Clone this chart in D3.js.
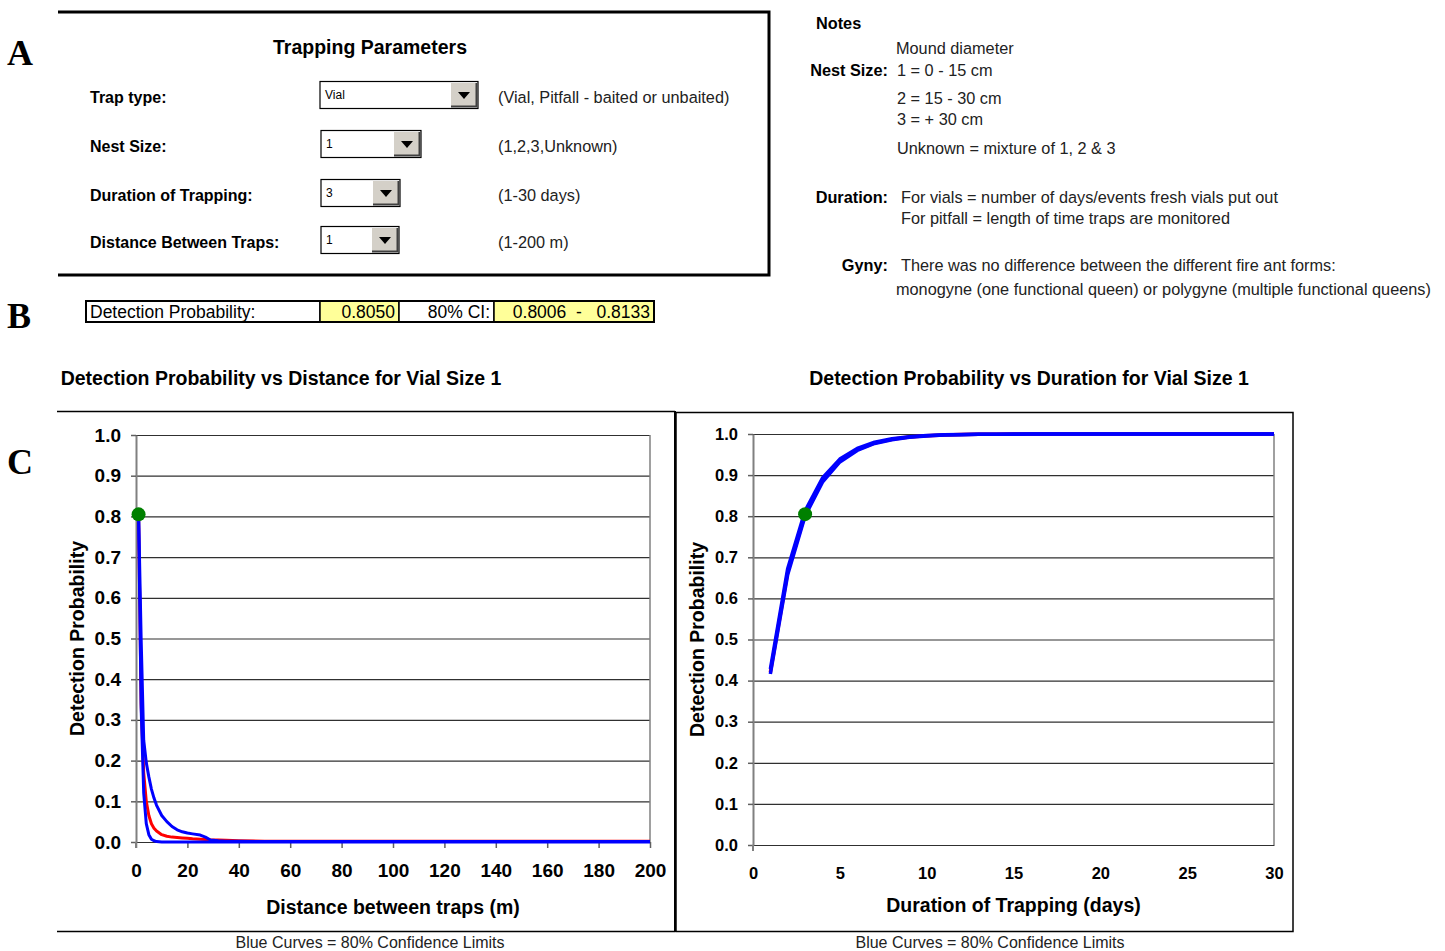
<!DOCTYPE html>
<html>
<head>
<meta charset="utf-8">
<script src="https://cdn.jsdelivr.net/npm/d3@7"></script>
<style>
  body { margin: 0; background: #fff; }
  svg text { font-family: "Liberation Sans", Arial, sans-serif; fill: #000; }
  .letter { font-family: "Liberation Serif", "Times New Roman", serif !important; font-weight: bold; font-size: 36px; }
</style>
</head>
<body>
<div id="chart"></div>
<script>
// ---- Data ----
const trapLabels = ["Trap type:", "Nest Size:", "Duration of Trapping:", "Distance Between Traps:"];
const trapValues = ["Vial", "1", "3", "1"];
const trapHints = ["(Vial, Pitfall - baited or unbaited)", "(1,2,3,Unknown)", "(1-30 days)", "(1-200 m)"];

const detectionProb = "0.8050";
const ciLower = "0.8006";
const ciUpper = "0.8133";

// distance chart (m) -> detection probability
const distances = [1, 2, 3, 4, 5, 6, 7, 8, 10, 12, 14, 16, 18, 20, 22, 25, 27, 29, 32, 35, 40, 50, 60, 80, 100, 120, 140, 160, 180, 200];
const distMain  = [0.805, 0.34, 0.17, 0.10, 0.065, 0.045, 0.034, 0.027, 0.018, 0.014, 0.012, 0.011, 0.010, 0.009, 0.008, 0.007, 0.006, 0.005, 0.005, 0.004, 0.003, 0.002, 0.002, 0.002, 0.002, 0.002, 0.002, 0.002, 0.002, 0.002];
const distUpper = [0.813, 0.50, 0.25, 0.195, 0.16, 0.13, 0.108, 0.09, 0.065, 0.05, 0.038, 0.03, 0.025, 0.022, 0.02, 0.017, 0.012, 0.005, 0.003, 0.002, 0.002, 0.001, 0.001, 0.001, 0.001, 0.001, 0.001, 0.001, 0.001, 0.001];
const distLower = [0.800, 0.33, 0.12, 0.045, 0.018, 0.007, 0.003, 0.001, 0, 0, 0, 0, 0, 0, 0, 0, 0, 0, 0, 0, 0, 0, 0, 0, 0, 0, 0, 0, 0, 0];

// duration chart (days) -> detection probability
const days = [1, 2, 3, 4, 5, 6, 7, 8, 9, 10, 11, 12, 13, 14, 15, 16, 17, 18, 19, 20, 21, 22, 23, 24, 25, 26, 27, 28, 29, 30];
const dayMain  = [0.420, 0.664, 0.805, 0.887, 0.934, 0.962, 0.978, 0.987, 0.9925, 0.9957, 0.9975, 0.9985, 0.9992, 0.9995, 0.9997, 0.9998, 0.9999, 1, 1, 1, 1, 1, 1, 1, 1, 1, 1, 1, 1, 1];
const dayLower = [0.416, 0.658, 0.8006, 0.883, 0.932, 0.960, 0.977, 0.986, 0.992, 0.9953, 0.9973, 0.9984, 0.9991, 0.9994, 0.9996, 0.9997, 0.9998, 0.9998, 0.9998, 0.9998, 0.9998, 0.9998, 0.9998, 0.9998, 0.9998, 0.9998, 0.9998, 0.9998, 0.9998, 0.9998];
const dayUpper = [0.428, 0.673, 0.8133, 0.893, 0.939, 0.965, 0.980, 0.9886, 0.9935, 0.9963, 0.9979, 0.9988, 0.9993, 0.9996, 0.9998, 0.9999, 0.9999, 0.9999, 0.9999, 0.9999, 0.9999, 0.9999, 0.9999, 0.9999, 0.9999, 0.9999, 0.9999, 0.9999, 0.9999, 0.9999];

const yTicks = [0, 0.1, 0.2, 0.3, 0.4, 0.5, 0.6, 0.7, 0.8, 0.9, 1.0];
const distTicks = [0, 20, 40, 60, 80, 100, 120, 140, 160, 180, 200];
const dayTicks = [0, 5, 10, 15, 20, 25, 30];

const currentDistance = 1;
const currentDuration = 3;

// ---- Drawing ----
const svg = d3.select("#chart").append("svg")
    .attr("width", 1445)
    .attr("height", 951);

// panel letters
svg.append("text").attr("class", "letter").attr("x", 7).attr("y", 65).text("A");
svg.append("text").attr("class", "letter").attr("x", 7).attr("y", 328).text("B");
svg.append("text").attr("class", "letter").attr("x", 7).attr("y", 474).text("C");

// Panel A box (no left side)
svg.append("path")
    .attr("d", "M58,12 H769 V275 H58")
    .attr("fill", "none")
    .attr("stroke", "#000")
    .attr("stroke-width", 3);

svg.append("text")
    .attr("x", 370).attr("y", 54)
    .attr("text-anchor", "middle")
    .style("font-weight", "bold").style("font-size", "19.5px")
    .text("Trapping Parameters");

const rowY = [95, 144, 193, 240];
const comboW = [158, 100, 79, 78];

function drawCombo(x, yc, w, value) {
    const h = 27, bw = 26;
    const g = svg.append("g").attr("transform", `translate(${x},${yc - h / 2})`);
    g.append("rect").attr("width", w).attr("height", h).attr("fill", "#fff").attr("stroke", "#000").attr("stroke-width", 1.2);
    g.append("rect").attr("x", w - bw - 1).attr("y", 1.5).attr("width", bw).attr("height", h - 3).attr("fill", "#d4d0c8");
    g.append("path").attr("d", `M${w - bw - 1},${h - 2} H${w - 1.5} V1.5`).attr("fill", "none").attr("stroke", "#404040").attr("stroke-width", 2);
    const cx = w - bw / 2 - 1, cy = h / 2;
    g.append("path").attr("d", `M${cx - 6},${cy - 3} L${cx + 6},${cy - 3} L${cx},${cy + 4} Z`).attr("fill", "#000");
    g.append("text").attr("x", 5).attr("y", h / 2 + 4).style("font-size", "12px").text(value);
}

trapLabels.forEach((lab, i) => {
    svg.append("text").attr("x", 90).attr("y", rowY[i] + 8)
        .style("font-weight", "bold").style("font-size", "16px").text(lab);
    drawCombo(i === 0 ? 320 : 321, rowY[i], comboW[i], trapValues[i]);
    svg.append("text").attr("x", 498).attr("y", rowY[i] + 8)
        .style("font-size", "16.3px").style("fill", "#222").text(trapHints[i]);
});

// Panel B table
const cells = [
    { x: 86, w: 234, fill: "#fff", text: "Detection Probability:", anchor: "start" },
    { x: 320, w: 79, fill: "#ffff99", text: detectionProb, anchor: "end" },
    { x: 399, w: 95, fill: "#fff", text: "80% CI:", anchor: "end" },
    { x: 494, w: 160, fill: "#ffff99", text: ciLower + "  -   " + ciUpper, anchor: "end" }
];
cells.forEach(c => {
    svg.append("rect").attr("x", c.x).attr("y", 301).attr("width", c.w).attr("height", 21)
        .attr("fill", c.fill).attr("stroke", "#000").attr("stroke-width", 1.5);
    svg.append("text")
        .attr("x", c.anchor === "start" ? c.x + 4 : c.x + c.w - 4)
        .attr("y", 317.5)
        .attr("text-anchor", c.anchor)
        .style("font-size", "17.5px")
        .style("white-space", "pre")
        .attr("xml:space", "preserve")
        .text(c.text);
});
svg.append("rect").attr("x", 86).attr("y", 301).attr("width", 568).attr("height", 21)
    .attr("fill", "none").attr("stroke", "#000").attr("stroke-width", 2);

// Notes
const noteG = svg.append("g").style("font-size", "16.3px");
noteG.append("text").attr("x", 816).attr("y", 29).style("font-weight", "bold").text("Notes");
noteG.append("text").attr("x", 896).attr("y", 54).style("fill", "#222").text("Mound diameter");
noteG.append("text").attr("x", 888).attr("y", 76).attr("text-anchor", "end").style("font-weight", "bold").text("Nest Size:");
noteG.append("text").attr("x", 897).attr("y", 76).style("fill", "#222").text("1 = 0 - 15 cm");
noteG.append("text").attr("x", 897).attr("y", 104).style("fill", "#222").text("2 = 15 - 30 cm");
noteG.append("text").attr("x", 897).attr("y", 125).style("fill", "#222").text("3 = + 30 cm");
noteG.append("text").attr("x", 897).attr("y", 154).style("fill", "#222").text("Unknown = mixture of 1, 2 & 3");
noteG.append("text").attr("x", 888).attr("y", 203).attr("text-anchor", "end").style("font-weight", "bold").text("Duration:");
noteG.append("text").attr("x", 901).attr("y", 203).style("fill", "#222").text("For vials = number of days/events fresh vials put out");
noteG.append("text").attr("x", 901).attr("y", 224).style("fill", "#222").text("For pitfall = length of time traps are monitored");
noteG.append("text").attr("x", 888).attr("y", 271).attr("text-anchor", "end").style("font-weight", "bold").text("Gyny:");
noteG.append("text").attr("x", 901).attr("y", 271).style("fill", "#222").text("There was no difference between the different fire ant forms:");
noteG.append("text").attr("x", 896).attr("y", 295).style("fill", "#222").text("monogyne (one functional queen) or polygyne (multiple functional queens)");

// Chart frames
svg.append("path").attr("d", "M57,411.5 H675 M57,931.5 H675").attr("stroke", "#000").attr("stroke-width", 1.5).attr("fill", "none");
svg.append("line").attr("x1", 675).attr("x2", 675).attr("y1", 411).attr("y2", 932).attr("stroke", "#000").attr("stroke-width", 2);
svg.append("rect").attr("x", 676).attr("y", 412.5).attr("width", 617).attr("height", 519).attr("fill", "none").attr("stroke", "#000").attr("stroke-width", 1.5);

function drawChart(cfg) {
    const x = d3.scaleLinear().domain(cfg.xDomain).range([cfg.left, cfg.right]);
    const y = d3.scaleLinear().domain([0, 1]).range([cfg.bottom, cfg.top]);
    const g = svg.append("g");

    // gridlines
    const grid = g.append("g")
        .attr("transform", `translate(${cfg.left},0)`)
        .call(d3.axisLeft(y).tickValues(yTicks).tickSize(-(cfg.right - cfg.left)).tickFormat(""));
    grid.select(".domain").remove();
    grid.selectAll("line").attr("stroke", "#303030").attr("stroke-width", 1.2);

    // right border of plot area
    g.append("line").attr("x1", cfg.right).attr("x2", cfg.right).attr("y1", y(1)).attr("y2", y(0))
        .attr("stroke", "#808080").attr("stroke-width", 1.5);

    // x axis
    const xa = g.append("g")
        .attr("transform", `translate(0,${cfg.bottom})`)
        .call(d3.axisBottom(x).tickValues(cfg.xTicks).tickSize(cfg.xTickSize).tickSizeOuter(0).tickPadding(cfg.xPad));
    xa.select(".domain").attr("stroke", "#303030").attr("stroke-width", 1.2);
    xa.selectAll("line").attr("stroke", "#606060").attr("stroke-width", 1.5);
    xa.selectAll("text").style("font-family", "Liberation Sans, Arial, sans-serif")
        .style("font-size", cfg.tickFont).style("font-weight", "bold").attr("fill", "#000");

    // y axis
    const ya = g.append("g")
        .attr("transform", `translate(${cfg.left},0)`)
        .call(d3.axisLeft(y).tickValues(yTicks).tickSize(5).tickSizeOuter(0).tickPadding(cfg.yPad).tickFormat(d3.format(".1f")));
    ya.select(".domain").attr("stroke", "#808080").attr("stroke-width", 2);
    ya.selectAll("line").attr("stroke", "#606060").attr("stroke-width", 1.5);
    ya.selectAll("text").style("font-family", "Liberation Sans, Arial, sans-serif")
        .style("font-size", cfg.tickFont).style("font-weight", "bold").attr("fill", "#000");
    g.append("line").attr("x1", cfg.left).attr("x2", cfg.left).attr("y1", cfg.bottom).attr("y2", cfg.bottom + 6)
        .attr("stroke", "#808080").attr("stroke-width", 2);

    // curves
    const line = d3.line().x(d => x(d.x)).y(d => y(d.y));
    const series = [
        { vals: cfg.main, color: "#ff0000" },
        { vals: cfg.lower, color: "#0000ff" },
        { vals: cfg.upper, color: "#0000ff" }
    ];
    series.forEach(s => {
        g.append("path")
            .datum(cfg.xs.map((xv, i) => ({ x: xv, y: s.vals[i] })))
            .attr("d", line)
            .attr("fill", "none")
            .attr("stroke", s.color)
            .attr("stroke-width", cfg.lineW)
            .attr("stroke-linejoin", "round");
    });

    // current point
    const idx = cfg.xs.indexOf(cfg.current);
    g.append("circle").attr("cx", x(cfg.current)).attr("cy", y(cfg.main[idx])).attr("r", 7).attr("fill", "#008000");

    // titles
    svg.append("text").attr("x", cfg.titleX).attr("y", 385).attr("text-anchor", "middle")
        .style("font-weight", "bold").style("font-size", "19.5px").text(cfg.title);
    svg.append("text").attr("transform", `translate(${cfg.yTitleX},${(cfg.top + cfg.bottom) / 2}) rotate(-90)`)
        .attr("text-anchor", "middle").style("font-weight", "bold").style("font-size", "19.5px")
        .text("Detection Probability");
    svg.append("text").attr("x", (cfg.left + cfg.right) / 2).attr("y", cfg.xTitleY).attr("text-anchor", "middle")
        .style("font-weight", "bold").style("font-size", "19.5px").text(cfg.xTitle);
    svg.append("text").attr("x", cfg.footX).attr("y", 948).attr("text-anchor", "middle")
        .style("font-size", "16px").style("fill", "#222").text("Blue Curves = 80% Confidence Limits");
}

drawChart({
    left: 136, right: 650, top: 435, bottom: 842,
    xDomain: [0, 200], xTicks: distTicks, xTickSize: 6, xPad: 16, yPad: 10,
    tickFont: "19px", lineW: 3,
    xs: distances, main: distMain, lower: distLower, upper: distUpper,
    current: currentDistance,
    title: "Detection Probability vs Distance for Vial Size 1", titleX: 281,
    yTitleX: 84, xTitle: "Distance between traps (m)", xTitleY: 914, footX: 370
});

drawChart({
    left: 753, right: 1274, top: 434, bottom: 845,
    xDomain: [0, 30], xTicks: dayTicks, xTickSize: 0, xPad: 22, yPad: 10,
    tickFont: "16.5px", lineW: 3.5,
    xs: days, main: dayMain, lower: dayLower, upper: dayUpper,
    current: currentDuration,
    title: "Detection Probability vs Duration for Vial Size 1", titleX: 1029,
    yTitleX: 704, xTitle: "Duration of Trapping (days)", xTitleY: 912, footX: 990
});
</script>
</body>
</html>
